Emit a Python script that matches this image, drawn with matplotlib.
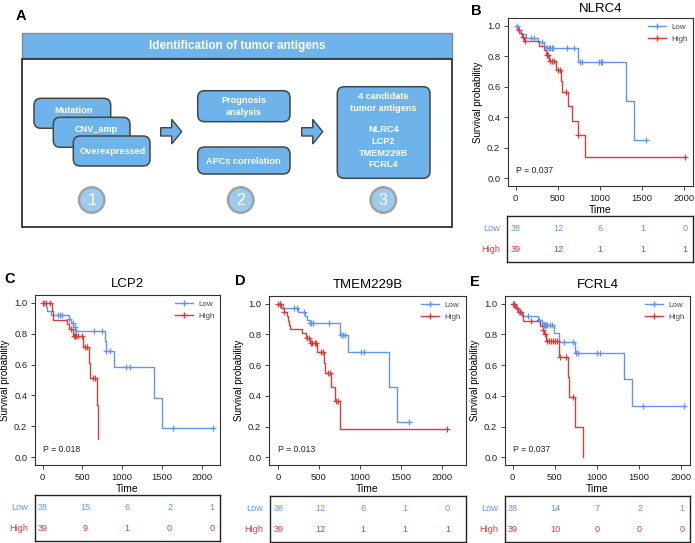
import matplotlib
matplotlib.use('Agg')
import matplotlib.pyplot as plt
from matplotlib.patches import FancyBboxPatch, Rectangle, Circle, Polygon
from matplotlib.lines import Line2D
import numpy as np

plt.rcParams['font.family'] = ['Liberation Sans', 'DejaVu Sans']

# ---------------- data ----------------
genes = ['NLRC4', 'LCP2', 'TMEM229B', 'FCRL4']
panel_letters = ['B', 'C', 'D', 'E']
p_values = ['P = 0.037', 'P = 0.018', 'P = 0.013', 'P = 0.037']
group_names = ['Low', 'High']
risk_times = [0, 500, 1000, 1500, 2000]

# NLRC4
B_low_t = [25, 60, 120, 260, 340, 365, 735, 1308, 1403]
B_low_s = [0.974, 0.947, 0.921, 0.894, 0.868, 0.853, 0.760, 0.505, 0.252]
B_low_c = [20, 182, 221, 308, 375, 395, 410, 427, 447, 605, 692, 763, 790, 988, 1010, 1028, 1541]
B_high_t = [20, 45, 70, 100, 280, 340, 365, 392, 474, 537, 550, 624, 664, 735, 822]
B_high_s = [0.974, 0.949, 0.923, 0.897, 0.868, 0.838, 0.806, 0.767, 0.709, 0.638, 0.567, 0.472, 0.378, 0.283, 0.142]
B_high_c = [40, 85, 110, 368, 385, 405, 427, 458, 506, 526, 597, 745, 2010]
B_risk_low = [38, 12, 6, 1, 0]
B_risk_high = [39, 12, 1, 1, 1]

# LCP2
C_low_t = [40, 60, 100, 325, 360, 385, 410, 784, 792, 901, 1400, 1505]
C_low_s = [0.974, 0.947, 0.921, 0.895, 0.868, 0.842, 0.818, 0.750, 0.688, 0.585, 0.386, 0.192]
C_low_c = [20, 189, 218, 247, 330, 379, 400, 415, 650, 742, 797, 847, 1048, 1098, 1635, 2147]
C_high_t = [115, 135, 310, 335, 375, 511, 580, 592, 679, 700]
C_high_s = [0.944, 0.889, 0.861, 0.833, 0.786, 0.714, 0.612, 0.510, 0.336, 0.120]
C_high_c = [8, 38, 92, 360, 395, 405, 415, 440, 490, 532, 560, 637, 658]
C_risk_low = [38, 15, 6, 2, 1]
C_risk_high = [39, 9, 1, 0, 0]

# TMEM229B
D_low_t = [57, 250, 330, 360, 390, 755, 857, 1359, 1457]
D_low_s = [0.974, 0.947, 0.920, 0.895, 0.876, 0.795, 0.684, 0.455, 0.227]
D_low_c = [25, 200, 229, 318, 395, 408, 429, 620, 775, 796, 816, 1012, 1049, 1600]
D_high_t = [41, 69, 110, 125, 135, 143, 290, 340, 395, 482, 560, 570, 653, 694, 755]
D_high_s = [0.974, 0.948, 0.920, 0.890, 0.863, 0.835, 0.806, 0.777, 0.745, 0.684, 0.615, 0.549, 0.455, 0.364, 0.182]
D_high_c = [0, 25, 78, 359, 380, 408, 420, 449, 469, 531, 551, 612, 633, 714, 735, 2069]
D_risk_low = [38, 12, 6, 1, 0]
D_risk_high = [39, 12, 1, 1, 1]

# FCRL4
E_low_t = [40, 67, 127, 305, 350, 495, 547, 741, 1327, 1422]
E_low_s = [0.974, 0.947, 0.921, 0.894, 0.863, 0.807, 0.748, 0.678, 0.509, 0.337]
E_low_c = [20, 80, 100, 186, 315, 356, 370, 380, 390, 400, 410, 440, 463, 614, 721, 752, 780, 998, 1038, 1552, 2036]
E_high_t = [28, 67, 110, 127, 325, 356, 372, 396, 550, 653, 673, 741, 840]
E_high_s = [0.974, 0.949, 0.920, 0.885, 0.857, 0.830, 0.800, 0.754, 0.652, 0.522, 0.391, 0.196, 0.0]
E_high_c = [5, 15, 50, 90, 218, 360, 380, 412, 430, 450, 475, 500, 525, 562, 634, 721]
E_risk_low = [38, 14, 7, 2, 1]
E_risk_high = [39, 10, 0, 0, 0]

# panel A texts
flow_title = 'Identification of tumor antigens'
step1_boxes = ['Mutation', 'CNV_amp', 'Overexpressed']
step2_boxes = ['Prognosis\nanalysis', 'APCs correlation']
step3_lines = ['4 candidate', 'tumor antigens', 'NLRC4', 'LCP2', 'TMEM229B', 'FCRL4']
step_numbers = ['1', '2', '3']

# ---------------- style ----------------
W, H = 695, 543
BLUE = '#6495ea'
RED = '#d0413b'
BOXBLUE = '#6eb3ea'
fig = plt.figure(figsize=(W / 100, H / 100), dpi=100)


def px_axes(x0, y0, x1, y1):
    return fig.add_axes([x0 / W, 1 - y1 / H, (x1 - x0) / W, (y1 - y0) / H])


# ---------------- panel A ----------------
axA = px_axes(0, 0, 465, 240)
axA.set_xlim(0, 465)
axA.set_ylim(240, 0)
axA.axis('off')
axA.add_patch(Rectangle((21.7, 32.7), 430.6, 25.6, fc=BOXBLUE, ec='#8a8a8a', lw=1.0))
axA.text(237, 45.5, flow_title, ha='center', va='center', color='white', fontsize=8.5, fontweight='bold')
axA.add_patch(Rectangle((21.7, 59.3), 430.6, 168, fc='white', ec='#333333', lw=1.3))


def rbox(x, y, w, h):
    axA.add_patch(FancyBboxPatch((x, y), w, h, boxstyle='round,pad=0,rounding_size=7',
                                 fc=BOXBLUE, ec='#454545', lw=1.1))


s1_pos = [(34, 98.3), (53.3, 117.3), (73.3, 136)]
s1_txt = [(73.3, 110.3), (96, 129.3), (112.7, 151.7)]
for (bx, by), (tx, ty), lab in zip(s1_pos, s1_txt, step1_boxes):
    rbox(bx, by, 76.7, 30)
    axA.text(tx, ty, lab, ha='center', va='center', color='white', fontsize=6.6, fontweight='bold')

rbox(197.7, 90.7, 92.3, 31)
axA.text(243.8, 106.5, step2_boxes[0], ha='center', va='center', color='white', fontsize=6.6,
         fontweight='bold', linespacing=1.3)
rbox(197.7, 147, 92.3, 27)
axA.text(243.8, 161, step2_boxes[1], ha='center', va='center', color='white', fontsize=6.6, fontweight='bold')

rbox(337.3, 86.7, 92.7, 91.6)
for lab, ty in zip(step3_lines, [96.7, 108.3, 130, 141.7, 153.3, 164.3]):
    axA.text(383.6, ty, lab, ha='center', va='center', color='white', fontsize=6.6, fontweight='bold')

for ox in [0, 141]:
    pts = [(160.7 + ox, 127.7), (171.7 + ox, 127.7), (171.7 + ox, 119.3), (181.7 + ox, 131.7),
           (171.7 + ox, 144), (171.7 + ox, 136), (160.7 + ox, 136)]
    axA.add_patch(Polygon(pts, closed=True, fc=BOXBLUE, ec='#454545', lw=1.0))

for cx, num in zip([91.7, 240.7, 383.3], step_numbers):
    axA.add_patch(Circle((cx, 200), 12.7, fc='#9ccbef', ec='#a0a0a0', lw=1.8))
    axA.text(cx, 200.5, num, ha='center', va='center', color='white', fontsize=11.5)

fig.text(21 / W, 1 - 15.5 / H, 'A', ha='center', va='center', fontsize=10.5, fontweight='bold')

# ---------------- KM panels ----------------
panels = [
    dict(low=(B_low_t, B_low_s, B_low_c), high=(B_high_t, B_high_s, B_high_c),
         rl=B_risk_low, rh=B_risk_high, box=(508, 18, 693, 186), xlim=(-91, 2103),
         tbox=(507, 216, 693, 262), txlim=(-103, 2096), letter_xy=(476, 11), title_pad=4),
    dict(low=(C_low_t, C_low_s, C_low_c), high=(C_high_t, C_high_s, C_high_c),
         rl=C_risk_low, rh=C_risk_high, box=(35, 295, 220, 465), xlim=(-97, 2230),
         tbox=(35, 495, 220, 541), txlim=(-91, 2096), letter_xy=(10, 279), title_pad=6),
    dict(low=(D_low_t, D_low_s, D_low_c), high=(D_high_t, D_high_s, D_high_c),
         rl=D_risk_low, rh=D_risk_high, box=(269, 296, 466, 465), xlim=(-110, 2297),
         tbox=(270, 496, 466, 542), txlim=(-98, 2219), letter_xy=(240, 281), title_pad=6),
    dict(low=(E_low_t, E_low_s, E_low_c), high=(E_high_t, E_high_s, E_high_c),
         rl=E_risk_low, rh=E_risk_high, box=(505, 296, 690, 465), xlim=(-91, 2107),
         tbox=(505, 496, 690, 542), txlim=(-91, 2096), letter_xy=(475, 282), title_pad=6),
]


def draw_km(ax, t, s, c, color):
    t_end = max([t[-1]] + list(c))
    xs = [0] + list(t) + [t_end]
    ys = [1.0] + list(s) + [s[-1]]
    ax.step(xs, ys, where='post', color=color, lw=1.0, zorder=3)
    ev_t = np.array([0] + list(t))
    ev_s = np.array([1.0] + list(s))
    cy = [ev_s[np.searchsorted(ev_t, ci, side='right') - 1] for ci in c]
    ax.plot(c, cy, ls='none', marker='+', ms=5, mew=0.9, color=color, zorder=4)


for i, pnl in enumerate(panels):
    x0, y0, x1, y1 = pnl['box']
    ax = px_axes(x0, y0, x1, y1)
    draw_km(ax, *pnl['low'], BLUE)
    draw_km(ax, *pnl['high'], RED)
    ax.set_xlim(*pnl['xlim'])
    ax.set_ylim(-0.05, 1.05)
    ax.set_xticks(risk_times)
    ax.set_yticks([0, 0.2, 0.4, 0.6, 0.8, 1.0])
    ax.set_yticklabels(['0.0', '0.2', '0.4', '0.6', '0.8', '1.0'])
    ax.tick_params(labelsize=6.8, length=3, width=0.6, colors='#222222', pad=2.5)
    for sp in ax.spines.values():
        sp.set_linewidth(0.8)
        sp.set_color('#333333')
    ax.set_xlabel('Time', fontsize=7.5, labelpad=2)
    ax.set_ylabel('Survival probability', fontsize=7, labelpad=3)
    ax.set_title(genes[i], fontsize=9.5, pad=pnl['title_pad'])
    ax.text(0, 0.05, p_values[i], fontsize=6.2, va='center', ha='left', color='#222222')
    handles = [Line2D([], [], color=BLUE, marker='+', ms=5, lw=1.0),
               Line2D([], [], color=RED, marker='+', ms=5, lw=1.0)]
    ax.legend(handles, group_names, loc='upper right', frameon=False, fontsize=5.8,
              labelcolor='#444444', handlelength=2.2, handletextpad=0.6, borderaxespad=0.3,
              labelspacing=0.5)
    lx, ly = pnl['letter_xy']
    fig.text(lx / W, 1 - ly / H, panel_letters[i], ha='center', va='center', fontsize=10.5,
             fontweight='bold')

    tx0, ty0, tx1, ty1 = pnl['tbox']
    axT = px_axes(tx0, ty0, tx1, ty1)
    axT.set_xlim(*pnl['txlim'])
    axT.set_ylim(0, 1)
    axT.set_xticks([])
    axT.set_yticks([])
    for sp in axT.spines.values():
        sp.set_linewidth(1.0)
        sp.set_color('#222222')
    for tt, vl, vh in zip(risk_times, pnl['rl'], pnl['rh']):
        axT.text(tt, 0.72, str(vl), ha='center', va='center', color=BLUE, fontsize=6.6)
        axT.text(tt, 0.27, str(vh), ha='center', va='center', color=RED, fontsize=6.6)
    axT.annotate(group_names[0], xy=(0, 0.72), xycoords='axes fraction', xytext=(-7, 0),
                 textcoords='offset pixels', ha='right', va='center', color=BLUE, fontsize=6.6)
    axT.annotate(group_names[1], xy=(0, 0.27), xycoords='axes fraction', xytext=(-7, 0),
                 textcoords='offset pixels', ha='right', va='center', color=RED, fontsize=6.6)

fig.savefig('out.png', dpi=100)
